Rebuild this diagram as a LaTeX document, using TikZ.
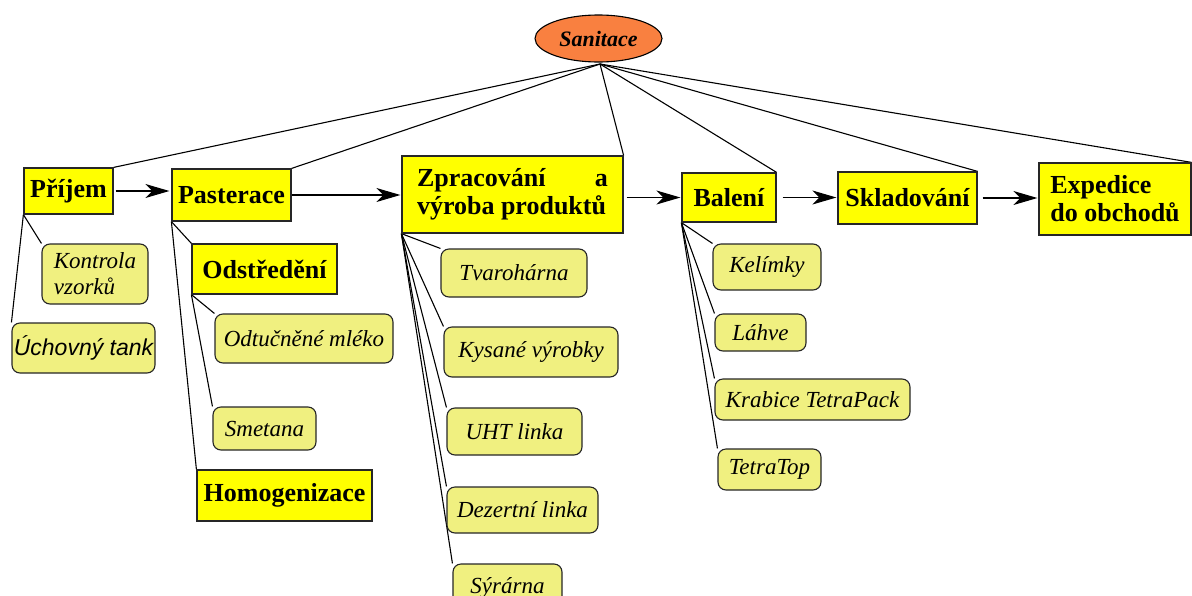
\documentclass[tikz,border=0pt]{standalone}
\usepackage{fontspec}
\setmainfont{Liberation Serif}
\newfontfamily\sansfam{Liberation Sans}
\usetikzlibrary{arrows.meta,backgrounds,shapes.geometric}
\definecolor{mainyellow}{HTML}{FFFF00}
\definecolor{subcol}{HTML}{F0F080}
\definecolor{orangefill}{HTML}{F98040}
\tikzset{
  mainbox/.style={draw=black!85, fill=mainyellow, line width=1.2pt, inner sep=0pt,
    font=\fontsize{26}{28}\selectfont\bfseries},
  subbox/.style={draw=black!85, fill=subcol, line width=1.1pt, inner sep=0pt,
    rounded corners=8pt, font=\fontsize{23}{26}\selectfont\itshape},
  conn/.style={line width=1.1pt, black},
  flow/.style={line width=1.1pt, black, -{Stealth[length=24pt,width=14pt,inset=7pt]}},
}
\begin{document}
\begin{tikzpicture}[x=1pt,y=-1pt]
\useasboundingbox (0,0) rectangle (1192,595);
\clip (0,0) rectangle (1192,595);
% top
\node[ellipse, draw=black, line width=1.1pt, fill=orangefill, minimum width=127pt, minimum height=47pt, inner sep=0pt,
  font=\fontsize{22}{24}\selectfont\bfseries\itshape] (san) at (598.5,38.5) {Sanitace};
\coordinate (hub) at (600,64);
% main chain
\node[mainbox, minimum width=89pt, minimum height=46pt] (prijem) at (68.5,191) {Příjem};
\node[mainbox, minimum width=119pt, minimum height=52pt] (past) at (231.5,195) {Pasterace};
\node[mainbox, minimum width=221pt, minimum height=77pt, align=left] (zprac) at (512.5,194.5)
  {\hbox to 191pt{Zpracování\hfill a}\\výroba produktů};
\node[mainbox, minimum width=94pt, minimum height=49pt] (bal) at (729,197.5) {Balení};
\node[mainbox, minimum width=139pt, minimum height=52pt] (skl) at (907.5,198) {Skladování};
\node[mainbox, minimum width=152pt, minimum height=72pt, align=left] (exp) at (1115,199)
  {\hbox to 128pt{Expedice\hfill}\\do obchodů};
% Prijem subs
\node[subbox, minimum width=106pt, minimum height=60pt, align=left] (kon) at (95,274) {Kontrola\\vzorků};
\node[subbox, minimum width=143pt, minimum height=50pt, font=\fontsize{23}{26}\selectfont\sansfam\itshape] (uch) at (83.5,348) {Úchovný tank};
% Pasterace subs
\node[mainbox, minimum width=145pt, minimum height=50pt] (ods) at (264.5,269) {Odstředění};
\node[subbox, minimum width=178pt, minimum height=49pt] (odt) at (304,338.5) {Odtučněné mléko};
\node[subbox, minimum width=103pt, minimum height=43pt] (sme) at (264.5,428.5) {Smetana};
\node[mainbox, minimum width=175pt, minimum height=51pt] (hom) at (284.5,495.5) {Homogenizace};
% Zpracovani subs
\node[subbox, minimum width=146pt, minimum height=48pt] (tva) at (514,273) {Tvarohárna};
\node[subbox, minimum width=174pt, minimum height=50pt] (kys) at (531,352) {Kysané výrobky};
\node[subbox, minimum width=135pt, minimum height=47pt] (uht) at (514.5,431.5) {UHT linka};
\node[subbox, minimum width=151pt, minimum height=46pt] (dez) at (522.5,510) {Dezertní linka};
\node[subbox, minimum width=109pt, minimum height=48pt] (syr) at (507.5,588) {Sýrárna};
% Baleni subs
\node[subbox, minimum width=108pt, minimum height=46pt] (kel) at (767,267) {Kelímky};
\node[subbox, minimum width=91pt, minimum height=37pt] (lah) at (760.5,332.5) {Láhve};
\node[subbox, minimum width=195pt, minimum height=41pt] (kra) at (812.5,399.5) {Krabice TetraPack};
\node[subbox, minimum width=103pt, minimum height=41pt] (tet) at (769.5,469.5) {TetraTop};
% flow arrows
\draw[flow, shorten <=2pt, shorten >=2pt] (prijem.east) -- (prijem.east -| past.west);
\draw[flow, shorten >=1pt] (past.east) -- (past.east -| zprac.west);
\draw[flow, shorten <=3pt, shorten >=1pt] (zprac.east |- bal.west) -- (bal.west);
\draw[flow, shorten <=6pt, shorten >=1pt] (bal.east) -- (bal.east -| skl.west);
\draw[flow, shorten <=5pt, shorten >=1pt] (skl.east) -- (skl.east -| exp.west);
\begin{scope}[on background layer]
  \foreach \t in {prijem,past,zprac,bal,skl,exp}
    \draw[conn] (hub) -- (\t.north east);
  \draw[conn] (prijem.south west) -- (kon.north west);
  \draw[conn] (prijem.south west) -- (uch.north west);
  \draw[conn] (past.south west) -- (ods.north west);
  \draw[conn] (past.south west) -- (hom.north west);
  \draw[conn] (ods.south west) -- (odt.north west);
  \draw[conn] (ods.south west) -- (sme.north west);
  \foreach \t in {tva,kys,uht,dez,syr}
    \draw[conn] (zprac.south west) -- (\t.north west);
  \foreach \t in {kel,lah,kra,tet}
    \draw[conn] (bal.south west) -- (\t.north west);
\end{scope}
\end{tikzpicture}
\end{document}
